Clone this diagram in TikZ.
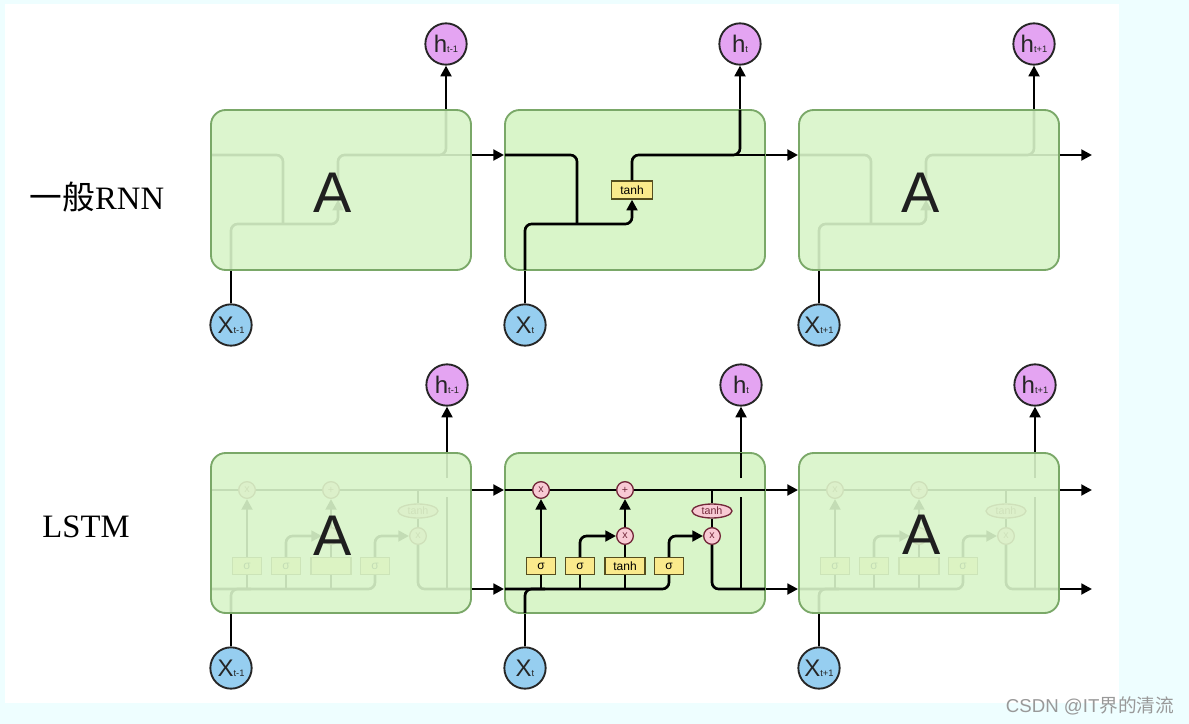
\documentclass[tikz,border=0pt]{standalone}
\usepackage{fontspec}
\setmainfont{Liberation Serif}
\setsansfont{Liberation Sans}
\newfontfamily\cjk{Noto Sans CJK SC}
\usetikzlibrary{arrows.meta,shapes.geometric}

\definecolor{bgcyan}{RGB}{238,254,255}
\definecolor{cellfill}{RGB}{217,245,201}
\definecolor{celldraw}{RGB}{122,168,104}
\definecolor{hfill}{RGB}{228,164,242}
\definecolor{xfill}{RGB}{150,206,240}
\definecolor{gatefill}{RGB}{250,234,140}
\definecolor{gatedraw}{RGB}{85,78,30}
\definecolor{opfill}{RGB}{248,202,212}
\definecolor{opdraw}{RGB}{115,40,58}

\tikzset{
  wire/.style={line width=2pt},
  arr/.style={wire,-{Triangle[length=8pt,width=8pt]}},
  cell/.style={draw=celldraw,line width=1.4pt,fill=cellfill,rounded corners=11pt,
    minimum width=195pt,minimum height=120pt,inner sep=0pt},
  ghostcell/.style={cell,fill opacity=0.9},
  hnode/.style={circle,draw=black!85,line width=1.4pt,fill=hfill,minimum size=31pt,
    inner sep=0pt,text=black!85,font=\sffamily\fontsize{18}{18}\selectfont},
  xnode/.style={hnode,fill=xfill},
  gate/.style={draw=gatedraw,line width=1pt,fill=gatefill,minimum width=21.75pt,
    minimum height=12.75pt,inner sep=1pt,font=\sffamily\fontsize{9}{9}\selectfont},
  op/.style={circle,draw=opdraw,line width=1pt,fill=opfill,minimum size=12.5pt,
    inner sep=0pt,text=opdraw,font=\sffamily\fontsize{8}{8}\selectfont},
  act/.style={ellipse,draw=opdraw,line width=1pt,fill=opfill,minimum width=30pt,
    minimum height=10.5pt,inner sep=0pt,text=opdraw,font=\sffamily\fontsize{8}{8}\selectfont},
  bigA/.style={text=black!88,font=\sffamily\fontsize{43}{43}\selectfont},
  rowlabel/.style={font=\fontsize{24.5}{24.5}\selectfont}
}

\newcommand\tsub[1]{{\fontsize{7}{7}\selectfont #1}}

% inside of one RNN cell, local pixel units from the top left corner
% #2 extra options of the tanh box, #3 its text
\newcommand\rnncore[3]{%
  \node[gate,minimum width=30.75pt,minimum height=13.5pt,#2] (#1t) at (127,80) {#3};
  \draw[wire,rounded corners=5pt] (0,45) -| (72,114);
  \draw[arr,rounded corners=5pt] (20,160) |- (127,114) -- (#1t.south);
  \draw[wire,rounded corners=5pt] (#1t.north) |- (235,45) -- (235,0);
  \draw[wire] (200,45) -- (260,45);
}

% inside of one LSTM cell, #2 text of the tanh layer, #3 of the middle product
\newcommand\lstmcore[3]{%
  \node[op] (#1f) at (36,37) {x};
  \node[op] (#1a) at (120,37) {+};
  \node[op] (#1i) at (120,83) {#3};
  \node[op] (#1m) at (207,83) {x};
  \node[act] (#1e) at (207,58) {tanh};
  \node[gate] (#1s1) at (36,113) {σ};
  \node[gate] (#1s2) at (75,113) {σ};
  \node[gate,minimum width=30pt] (#1g) at (120,113) {#2};
  \node[gate] (#1o) at (164,113) {σ};
  \draw[wire] (0,37) -- (#1f.west);
  \draw[wire] (#1f.east) -- (#1a.west);
  \draw[wire] (#1a.east) -- (260,37);
  \draw[wire,rounded corners=5pt] (0,136) -| (#1o.south);
  \draw[wire,rounded corners=5pt] (20,160) |- (40,136);
  \draw[wire] (#1s1.south) -- (#1s1.south |- 0,136);
  \draw[wire] (#1s2.south) -- (#1s2.south |- 0,136);
  \draw[wire] (#1g.south) -- (#1g.south |- 0,136);
  \draw[arr] (#1s1.north) -- (#1f.south);
  \draw[arr,rounded corners=5pt] (#1s2.north) |- (#1i.west);
  \draw[wire] (#1g.north) -- (#1i.south);
  \draw[arr] (#1i.north) -- (#1a.south);
  \draw[arr,rounded corners=5pt] (#1o.north) |- (#1m.west);
  \draw[wire] (#1e.north |- 0,37) -- (#1e.north);
  \draw[wire] (#1e.south) -- (#1m.north);
  \draw[wire,rounded corners=5pt] (#1m.south) |- (260,136);
  \draw[wire] (236,136) -- (236,44);
  \draw[wire] (236,25) -- (236,0);
}

\begin{document}
\begin{tikzpicture}[x=0.75pt,y=-0.75pt] % 1189 x 724 px
  \fill[bgcyan] (0,0) rectangle (1189,724);
  \fill[white] (5,4) rectangle (1119,703);
  \useasboundingbox (0,0) rectangle (1189,724);

  \node[rowlabel] (rnnlabel) at (97,197) {{\cjk 一般}RNN};
  \node[rowlabel] (lstmlabel) at (86,527) {LSTM};

  % plain RNN
  \begin{scope}[shift={(211,110)}] \rnncore{ra}{draw=none,fill=none}{} \end{scope}
  \node[ghostcell] (c1) at (341,190) {};
  \node[bigA] (a1) at (333,193) {A};
  \node[cell] (c2) at (635,190) {};
  \begin{scope}[shift={(505,110)}] \rnncore{rb}{}{tanh} \end{scope}
  \begin{scope}[shift={(799,110)}] \rnncore{rc}{draw=none,fill=none}{} \end{scope}
  \node[ghostcell] (c3) at (929,190) {};
  \node[bigA] (a3) at (921,193) {A};

  \node[hnode] (h1) at (446,44) {h\tsub{t-1}};
  \node[hnode] (h2) at (740,44) {h\tsub{t}};
  \node[hnode] (h3) at (1034,44) {h\tsub{t+1}};
  \node[xnode] (x1) at (231,325) {X\tsub{t-1}};
  \node[xnode] (x2) at (525,325) {X\tsub{t}};
  \node[xnode] (x3) at (819,325) {X\tsub{t+1}};
  \coordinate (rend) at (1092,155);

  \draw[arr] (h1 |- c1.north) -- (h1);
  \draw[arr] (h2 |- c2.north) -- (h2);
  \draw[arr] (h3 |- c3.north) -- (h3);
  \draw[wire] (x1) -- (x1 |- c1.south);
  \draw[wire] (x2) -- (x2 |- c2.south);
  \draw[wire] (x3) -- (x3 |- c3.south);
  \draw[arr] (c1.east |- 0,155) -- (c2.west |- 0,155);
  \draw[arr] (c2.east |- 0,155) -- (c3.west |- 0,155);
  \draw[arr] (c3.east |- rend) -- (rend);

  % LSTM
  \begin{scope}[shift={(211,453)}] \lstmcore{la}{}{} \end{scope}
  \node[ghostcell] (l1) at (341,533) {};
  \node[bigA] (a4) at (333,536) {A};
  \node[cell] (l2) at (635,533) {};
  \begin{scope}[shift={(505,453)}] \lstmcore{lb}{tanh}{x} \end{scope}
  \begin{scope}[shift={(799,453)}] \lstmcore{lc}{}{} \end{scope}
  \node[ghostcell] (l3) at (929,533) {};
  \node[bigA] (a6) at (922,535) {A};

  \node[hnode] (lh1) at (447,385) {h\tsub{t-1}};
  \node[hnode] (lh2) at (741,385) {h\tsub{t}};
  \node[hnode] (lh3) at (1035,385) {h\tsub{t+1}};
  \node[xnode] (lx1) at (231,668) {X\tsub{t-1}};
  \node[xnode] (lx2) at (525,668) {X\tsub{t}};
  \node[xnode] (lx3) at (819,668) {X\tsub{t+1}};
  \coordinate (cend) at (1092,490);
  \coordinate (hend) at (1092,589);

  \draw[arr] (lh1 |- l1.north) -- (lh1);
  \draw[arr] (lh2 |- l2.north) -- (lh2);
  \draw[arr] (lh3 |- l3.north) -- (lh3);
  \draw[wire] (lx1) -- (lx1 |- l1.south);
  \draw[wire] (lx2) -- (lx2 |- l2.south);
  \draw[wire] (lx3) -- (lx3 |- l3.south);
  \draw[arr] (l1.east |- cend) -- (l2.west |- cend);
  \draw[arr] (l1.east |- hend) -- (l2.west |- hend);
  \draw[arr] (l2.east |- cend) -- (l3.west |- cend);
  \draw[arr] (l2.east |- hend) -- (l3.west |- hend);
  \draw[arr] (l3.east |- cend) -- (cend);
  \draw[arr] (l3.east |- hend) -- (hend);

  \node[text=black!40,font=\sffamily\fontsize{14}{14}\selectfont] (mark) at (1090,706)
    {CSDN @IT{\cjk 界的清流}};
\end{tikzpicture}
\end{document}
